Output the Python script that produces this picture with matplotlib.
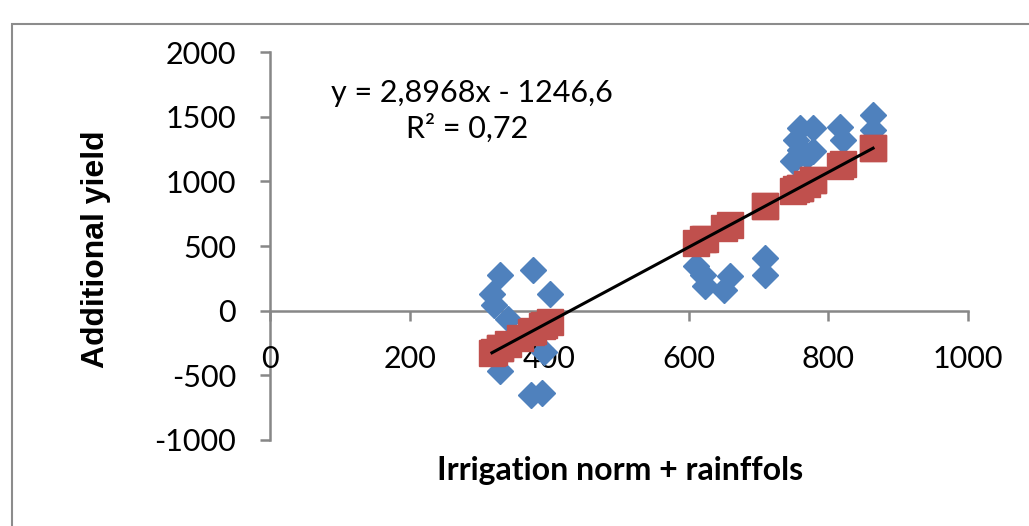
import matplotlib
matplotlib.use("Agg")
import matplotlib.pyplot as plt
from matplotlib.patches import Rectangle

# irrigation norm + rainfall (shared by both series)
x_vals = [318, 321, 330, 330, 341, 358, 374, 377, 390, 393, 401,
          611, 621, 623, 650, 659, 709, 709,
          750, 754, 759, 759, 769, 778, 778, 817, 821, 864, 864]
# measured additional yield (blue diamonds)
y_actual = [131, 46, 278, -464, -65, -200, -649, 317, -634, -317, 130,
            342, 278, 188, 162, 265, 407, 278,
            1154, 1321, 1412, 1244, 1193, 1412, 1231, 1424, 1321, 1510, 1400]
# predicted additional yield (red squares)
y_pred = [-325, -317, -291, -291, -259, -210, -163, -155, -117, -108, -85,
          523, 552, 558, 636, 662, 807, 807,
          926, 938, 952, 952, 981, 1007, 1007, 1120, 1132, 1256, 1256]

slope = 2.8968
intercept = -1246.6
eq_text = "y = 2,8968x - 1246,6"
r2_text = "R² = 0,72"

x_ticks = [0, 200, 400, 600, 800, 1000]
y_ticks = [-1000, -500, 0, 500, 1000, 1500, 2000]

plt.rcParams['font.family'] = ['Lato', 'DejaVu Sans']
plt.rcParams['axes.unicode_minus'] = False
axis_col = "#878787"

fig = plt.figure(figsize=(10.29, 5.26), dpi=100)
ax = fig.add_axes([0.2624, 0.1635, 0.6783, 0.7376])

ax.plot(x_vals, y_actual, linestyle="none", marker="D", markersize=13.5,
        color="#4F81BD", zorder=3)
ax.plot(x_vals, y_pred, linestyle="none", marker="s", markersize=19,
        color="#C0504D", zorder=4)

# trend line over the data range
x0, x1 = min(x_vals), max(x_vals)
ax.plot([x0, x1], [slope * x0 + intercept, slope * x1 + intercept],
        color="black", linewidth=2.2, zorder=5)

ax.set_xlim(0, 1000)
ax.set_ylim(-1000, 2000)
ax.set_xticks(x_ticks)
ax.set_yticks(y_ticks)

ax.spines["top"].set_visible(False)
ax.spines["right"].set_visible(False)
ax.spines["bottom"].set_position(("data", 0))
for s in ("left", "bottom"):
    ax.spines[s].set_color(axis_col)
    ax.spines[s].set_linewidth(1.8)
    ax.spines[s].set_zorder(1)

ax.tick_params(axis="x", direction="out", length=7.5, width=1.8,
               color=axis_col, labelsize=22, pad=17)
ax.tick_params(axis="y", direction="out", length=7.5, width=1.8,
               color=axis_col, labelsize=22, pad=17)

ax.text(289, 1615, eq_text, ha="center", va="baseline", fontsize=22)
ax.text(282, 1337, r2_text, ha="center", va="baseline", fontsize=22)

fig.text(0.093, 0.527, "Additional yield", rotation=90, ha="center",
         va="center", fontsize=23, fontweight="bold",
         family=["Liberation Sans", "DejaVu Sans"])
fig.text(0.6025, 0.0875, "Irrigation norm + rainffols", ha="center",
         va="baseline", fontsize=23, fontweight="bold")

# outer chart border
fig.patches.append(Rectangle((0.0117, -0.05), 1.05, 0.9544 + 0.05,
                             transform=fig.transFigure, fill=False,
                             edgecolor="#8c8c8c", linewidth=1.5))

fig.savefig("out.png", dpi=100)
